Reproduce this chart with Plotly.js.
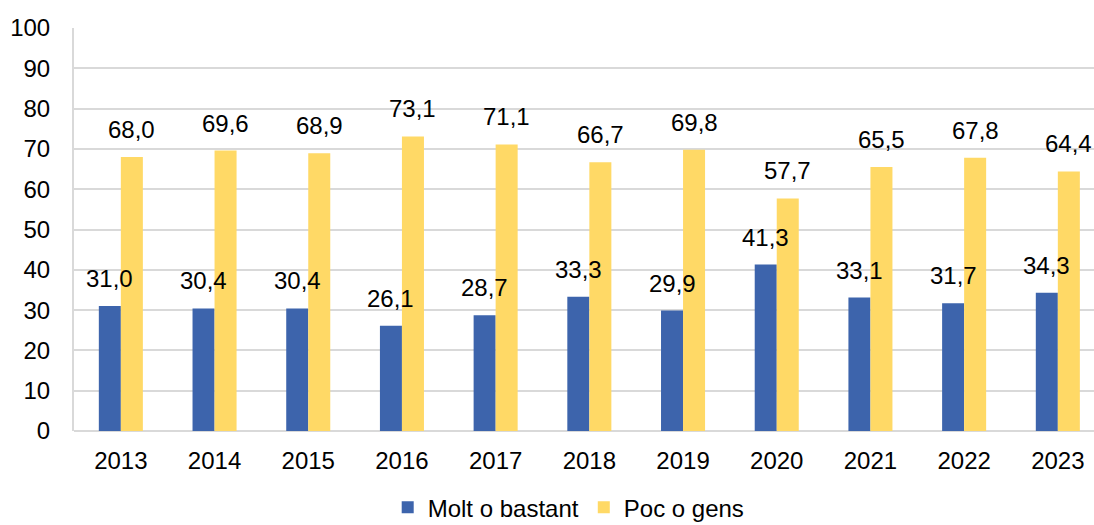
<!DOCTYPE html>
<html><head><meta charset="utf-8">
<script src="https://cdn.plot.ly/plotly-3.0.1.min.js"></script>
<style>html,body{margin:0;padding:0;background:#fff}#chart{width:1094px;height:525px}</style>
</head><body><div id="chart"></div>
<script>
var years = ['2013','2014','2015','2016','2017','2018','2019','2020','2021','2022','2023'];
var moltBastant = [31.0, 30.4, 30.4, 26.1, 28.7, 33.3, 29.9, 41.3, 33.1, 31.7, 34.3];
var pocGens = [68.0, 69.6, 68.9, 73.1, 71.1, 66.7, 69.8, 57.7, 65.5, 67.8, 64.4];
var seriesNames = ['Molt o bastant', 'Poc o gens'];
var yTicks = [0,10,20,30,40,50,60,70,80,90,100];

var FONT = 'Liberation Sans, Arial, sans-serif';
var FS = 24;
var fmt = function(v){ return v.toFixed(1).replace('.', ','); };

var traces = [
  {type:'bar', name:seriesNames[0], x:years, y:moltBastant, marker:{color:'#3D64AC'}, hoverinfo:'none'},
  {type:'bar', name:seriesNames[1], x:years, y:pocGens, marker:{color:'#FFD966'}, hoverinfo:'none'}
];

var annotations = [];
[moltBastant, pocGens].forEach(function(arr, si){
  arr.forEach(function(v, i){
    annotations.push({x:i, y:v, xref:'x', yref:'y', text:fmt(v), showarrow:false,
      xanchor:'center', yanchor:'bottom', xshift: si===0 ? -11 : 11, yshift: 12,
      font:{family:FONT, size:FS, color:'#000'}});
  });
});

var layout = {
  width:1094, height:525,
  margin:{l:74, r:0, t:28, b:94, pad:0, autoexpand:false},
  paper_bgcolor:'#fff', plot_bgcolor:'#fff',
  barmode:'group', bargap:0.53, bargroupgap:0,
  font:{family:FONT, size:FS, color:'#000'},
  xaxis:{type:'category', range:[-0.5, 10.386], showgrid:false, zeroline:false,
    showline:false, ticks:'', ticklabelstandoff:13, tickfont:{family:FONT, size:FS, color:'#000'}, fixedrange:true},
  yaxis:{range:[0,100], tickvals:yTicks, showgrid:true, gridcolor:'#d9d9d9', gridwidth:2,
    zeroline:true, zerolinecolor:'#d9d9d9', zerolinewidth:2,
    showline:true, linecolor:'#d9d9d9', linewidth:2, ticks:'', ticklabelstandoff:17,
    tickfont:{family:FONT, size:FS, color:'#000'}, fixedrange:true},
  showlegend:true,
  legend:{orientation:'h', x:0.485, xanchor:'center', y:-0.19, yanchor:'middle',
    font:{family:FONT, size:FS, color:'#000'}, itemwidth:30, tracegroupgap:0, traceorder:'normal'},
  annotations:annotations
};

Plotly.newPlot('chart', traces, layout, {displayModeBar:false});
</script></body></html>
